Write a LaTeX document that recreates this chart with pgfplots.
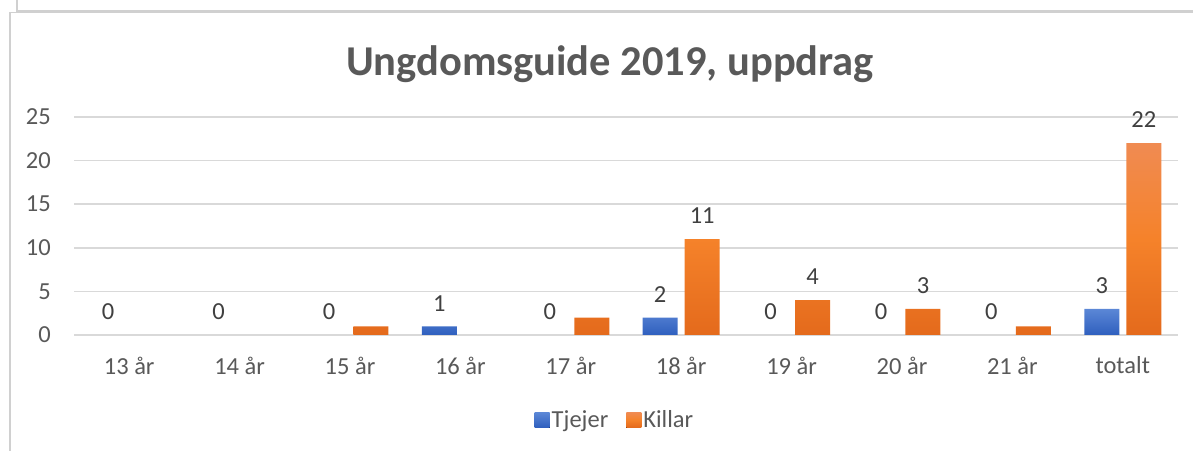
\documentclass[border=0pt]{standalone}
\usepackage{pgfplots}
\pgfplotsset{compat=1.18}
\usepackage{fontspec}
\setmainfont{Carlito}
\definecolor{txt}{HTML}{595959}
\definecolor{lab}{HTML}{404040}
\definecolor{gridc}{HTML}{D9D9D9}
\definecolor{frame}{HTML}{D0D0D0}
\definecolor{blueT}{HTML}{5B87D6}
\definecolor{blueB}{HTML}{2F5FBE}
\definecolor{orT}{HTML}{F08B52}
\definecolor{orM}{HTML}{F5822A}
\definecolor{orB}{HTML}{E46A1C}
\begin{document}
\begin{tikzpicture}[x=1bp,y=1bp]
\useasboundingbox (0,0) rectangle (1193,451);
\draw[frame, line width=1.2bp] (17,451) -- (17,440) -- (1193,440);
\draw[frame, line width=1.2bp] (10,0) -- (10,438.5) -- (1193,438.5);
\node[anchor=base, font=\fontsize{42.5bp}{50bp}\selectfont\bfseries, text=txt] at (610,375) {Ungdomsguide 2019, uppdrag};
\begin{axis}[
  at={(74bp,116bp)}, anchor=south west,
  scale only axis, width=1104bp, height=218bp,
  xmin=-0.5, xmax=9.5, ymin=0, ymax=25,
  ytick={0,5,10,15,20,25},
  xtick={0,1,2,3,4,5,6,7,8,9},
  xticklabels={13 år,14 år,15 år,16 år,17 år,18 år,19 år,20 år,21 år,totalt},
  /pgf/number format/assume math mode=true,
  axis line style={draw=none},
  major tick length=0pt,
  ymajorgrids, grid style={gridc, line width=1.5bp},
  tick label style={font=\fontsize{24.5bp}{29bp}\selectfont, text=txt},
  yticklabel style={anchor=east, inner sep=0pt, xshift=-23bp},
  xticklabel style={anchor=north, inner sep=0pt, yshift=-21.5bp},
  clip=false,
  legend style={at={(0.49,-0.39)}, anchor=center, draw=none, fill=none,
    font=\fontsize{24.5bp}{29bp}\selectfont, text=txt, inner sep=0pt,
    nodes={inner sep=2bp},
    /tikz/every even column/.append style={column sep=16bp}},
  legend columns=-1,
  legend image code/.code={\fill[#1] (0bp,-7.5bp) rectangle (15bp,7.5bp);},
  every node near coord/.append style={font=\fontsize{24.5bp}{29bp}\selectfont, text=lab, anchor=south, inner sep=0pt, yshift=15bp},
]
% bars (non-zero values)
\addplot[ybar, bar width=35bp, bar shift=-21bp, draw=none, top color=blueT, bottom color=blueB]
  coordinates {(3,1) (5,2) (9,3)};
\addlegendentry{Tjejer}
\addplot[ybar, bar width=35bp, bar shift=21bp, draw=none, top color=orT, bottom color=orB, middle color=orM]
  coordinates {(2,1) (4,2) (5,11) (6,4) (7,3) (8,1) (9,22)};
\addlegendentry{Killar}
% data labels
\addplot[ybar, bar width=35bp, bar shift=-21bp, draw=none, fill=none, forget plot,
  nodes near coords, point meta=explicit symbolic,
  every node near coord/.append style={xshift=-21bp}]
  coordinates {(0,0)[0] (1,0)[0] (2,0)[0] (3,1)[1] (4,0)[0] (5,2)[2] (6,0)[0] (7,0)[0] (8,0)[0] (9,3)[3]};
\addplot[ybar, bar width=35bp, bar shift=21bp, draw=none, fill=none, forget plot,
  nodes near coords, point meta=explicit symbolic,
  every node near coord/.append style={xshift=21bp}]
  coordinates {(5,11)[11] (6,4)[4] (7,3)[3] (9,22)[22]};
\end{axis}
\end{tikzpicture}
\end{document}
